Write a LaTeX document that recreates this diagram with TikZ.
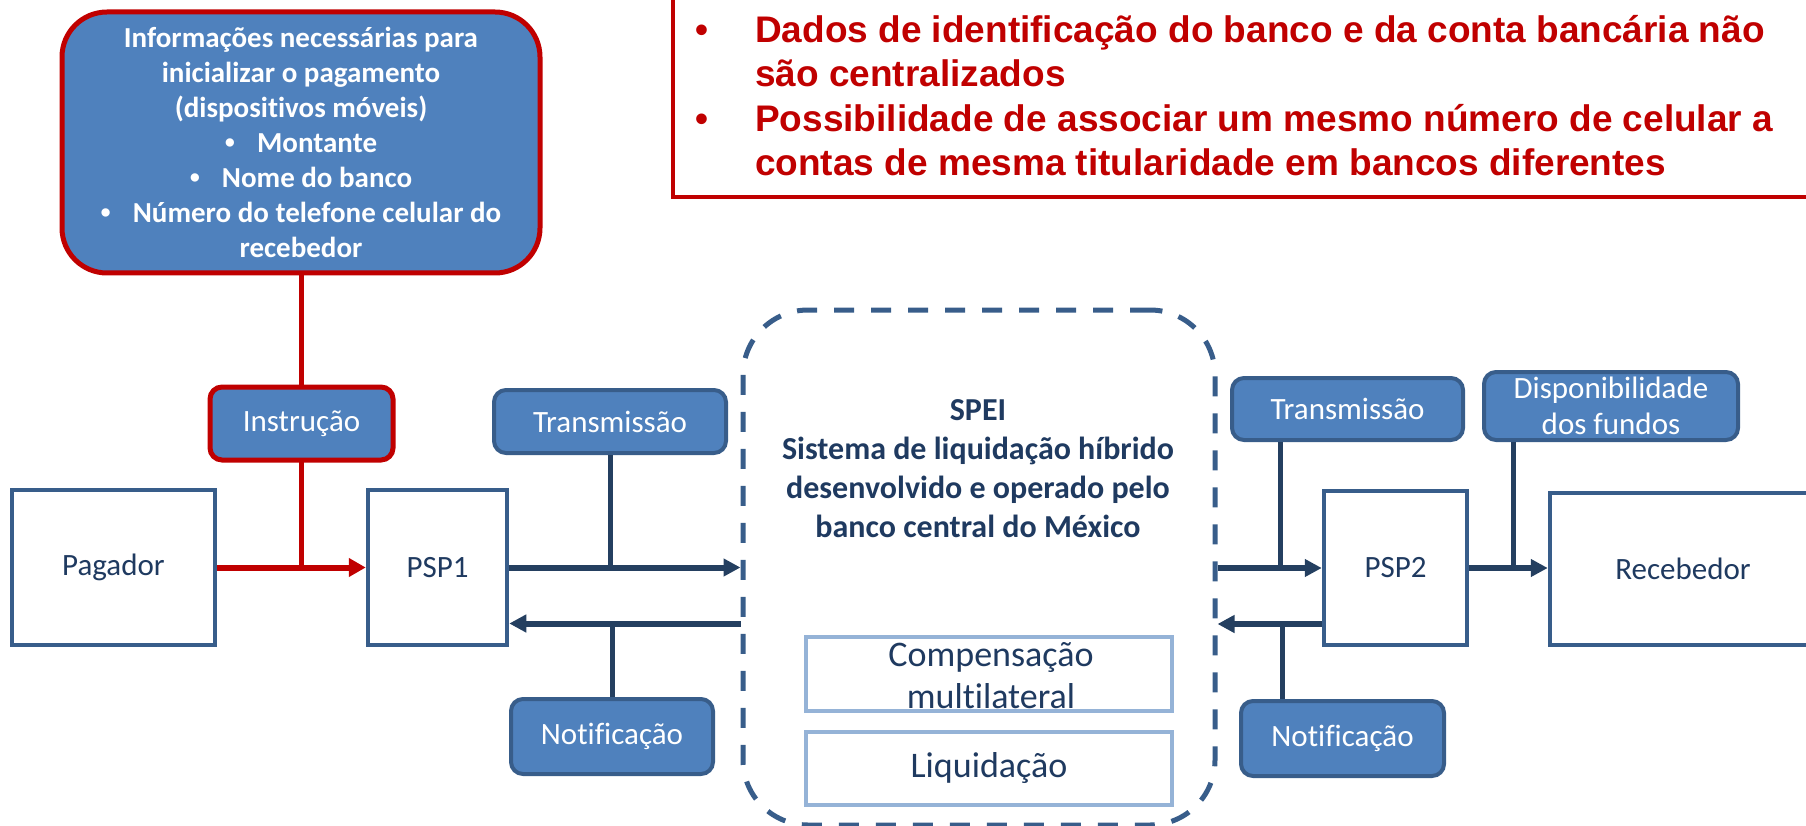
\documentclass[tikz,border=0pt]{standalone}
\usepackage{fontspec}
\setmainfont{Carlito}[Ligatures=NoCommon]
\newfontfamily\arialfont{Liberation Sans}
\usetikzlibrary{arrows.meta,calc}
\definecolor{blueFill}{HTML}{4F81BD}
\definecolor{blueBorder}{HTML}{385D8A}
\definecolor{navy}{HTML}{243F60}
\definecolor{navyText}{HTML}{1F3A60}
\definecolor{lightBorder}{HTML}{95B3D7}
\definecolor{darkRed}{HTML}{C00000}
\newcommand{\smallbul}{{\arialfont •}}
\tikzset{
  bluebox/.style={draw=blueBorder, fill=blueFill, line width=4pt, rounded corners=12pt,
    text=white, font=\fontsize{31}{36}\selectfont, inner sep=0pt, align=center},
  redbox/.style={bluebox, draw=darkRed, line width=5pt},
  whitebox/.style={draw=blueBorder, fill=white, line width=4.5pt, inner sep=0pt,
    text=navyText, font=\fontsize{31}{36}\selectfont},
  lightbox/.style={draw=lightBorder, fill=white, line width=4pt, inner sep=0pt},
  navyarrow/.style={draw=navy, line width=6pt, -{Triangle[length=17pt,width=17pt]}},
  navyline/.style={draw=navy, line width=5pt},
  redarrow/.style={draw=darkRed, line width=6pt, -{Triangle[length=17pt,width=18pt]}},
  redline/.style={draw=darkRed, line width=5pt},
  redtext/.style={text=darkRed, font=\arialfont\bfseries\fontsize{37}{44}\selectfont, inner sep=0pt, anchor=base west},
  redbullet/.style={text=darkRed, font=\arialfont\bfseries\fontsize{37}{44}\selectfont, inner sep=0pt, anchor=base},
}
\begin{document}
\begin{tikzpicture}[x=1pt,y=-1pt]
\useasboundingbox (0,0) rectangle (1806,826);

% red note box (clipped at top and right)
\draw[draw=darkRed, line width=3.5pt] (673,-20) -- (673,197) -- (1830,197);
\node[redbullet] (b1) at (702,43) {•};
\node[redtext] (r1) at (755,43) {Dados de identificação do banco e da conta bancária não};
\node[redtext] (r2) at (755,87) {são centralizados};
\node[redbullet] (b2) at (702,132) {•};
\node[redtext] (r3) at (755,132) {Possibilidade de associar um mesmo número de celular a};
\node[redtext] (r4) at (755,176) {contas de mesma titularidade em bancos diferentes};

% SPEI dashed container
\node[draw=blueBorder, line width=5pt, dash pattern=on 20pt off 17pt, rounded corners=65pt,
  minimum width=472pt, minimum height=515pt, inner sep=0pt] (spei) at (979,567.5) {};
\node[text=navyText, font=\bfseries\fontsize{32}{39}\selectfont, align=center, inner sep=0pt]
  (speitext) at (978,468.5) {SPEI\\Sistema de liquidação híbrido\\desenvolvido e operado pelo\\banco central do México};
\node[lightbox, minimum width=366pt, minimum height=74pt] (comp) at (989,674) {};
\node[text=navyText, font=\fontsize{36}{42}\selectfont, align=center, inner sep=0pt] (comptext) at (991,676) {Compensação\\multilateral};
\node[lightbox, minimum width=366pt, minimum height=73pt, text=navyText, font=\fontsize{36}{42}\selectfont] (liq) at (989,768.5) {Liquidação};

% main boxes
\node[whitebox, minimum width=203pt, minimum height=155pt] (pagador) at (113.5,567.5) {Pagador};
\node[whitebox, minimum width=139pt, minimum height=155pt] (psp1) at (437.5,567.5) {PSP1};
\node[whitebox, minimum width=143pt, minimum height=154pt] (psp2) at (1395.5,568) {PSP2};
\node[whitebox, minimum width=266pt, minimum height=152pt] (receb) at (1683,569) {Recebedor};

% info box
\node[redbox, line width=5pt, rounded corners=45pt, minimum width=478pt, minimum height=261pt,
  font=\bfseries\fontsize{29}{35}\selectfont] (info) at (301,142.5)
  {Informações necessárias para\\inicializar o pagamento\\(dispositivos móveis)\\\smallbul\hspace{22pt}Montante\\\smallbul\hspace{22pt}Nome do banco\\\smallbul\hspace{22pt}Número do telefone celular do\\recebedor};

% red connector (runs behind the Instrução box)
\draw[redline] (info.south) -- (info.south |- pagador.east);
\draw[redarrow] (pagador.east) -- (psp1.west);

% small boxes
\node[redbox, minimum width=183pt, minimum height=73pt] (instr) at (301.5,423.5) {Instrução};
\node[bluebox, minimum width=232pt, minimum height=63pt] (transL) at (610,421.5) {Transmissão};
\node[bluebox, minimum width=202pt, minimum height=75pt] (notifL) at (612,736.5) {Notificação};
\node[bluebox, minimum width=231pt, minimum height=62pt] (transR) at (1347.5,409) {Transmissão};
\node[bluebox, minimum width=254pt, minimum height=68pt] (disp) at (1611,406) {Disponibilidade\\dos fundos};
\node[bluebox, minimum width=203pt, minimum height=75pt] (notifR) at (1342.5,738.5) {Notificação};

% left PSP1 <-> SPEI
\draw[navyarrow] (psp1.east) -- (psp1.east -| spei.west);
\draw[navyarrow] ([yshift=-56pt]psp1.east -| spei.west) -- ([yshift=-56pt]psp1.east);
\draw[navyline] (transL.south) -- (transL.south |- psp1.east);
\draw[navyline] (notifL.north) -- ([yshift=-56pt]notifL.north |- psp1.east);

% right SPEI <-> PSP2
\draw[navyarrow] (psp2.west -| spei.east) -- (psp2.west);
\draw[navyarrow] ([yshift=-56pt]psp2.west) -- ([yshift=-56pt]psp2.west -| spei.east);
\draw[navyline] ([xshift=-67pt]transR.south) -- ([xshift=-67pt]transR.south |- psp2.west);
\draw[navyline] ([xshift=-60pt]notifR.north) -- ([xshift=-60pt,yshift=-56pt]notifR.north |- psp2.west);

% PSP2 -> Recebedor
\draw[navyarrow] (psp2.east) -- (psp2.east -| receb.west);
\draw[navyline] ([xshift=-98pt]disp.south) -- ([xshift=-98pt]disp.south |- psp2.east);
\end{tikzpicture}
\end{document}
